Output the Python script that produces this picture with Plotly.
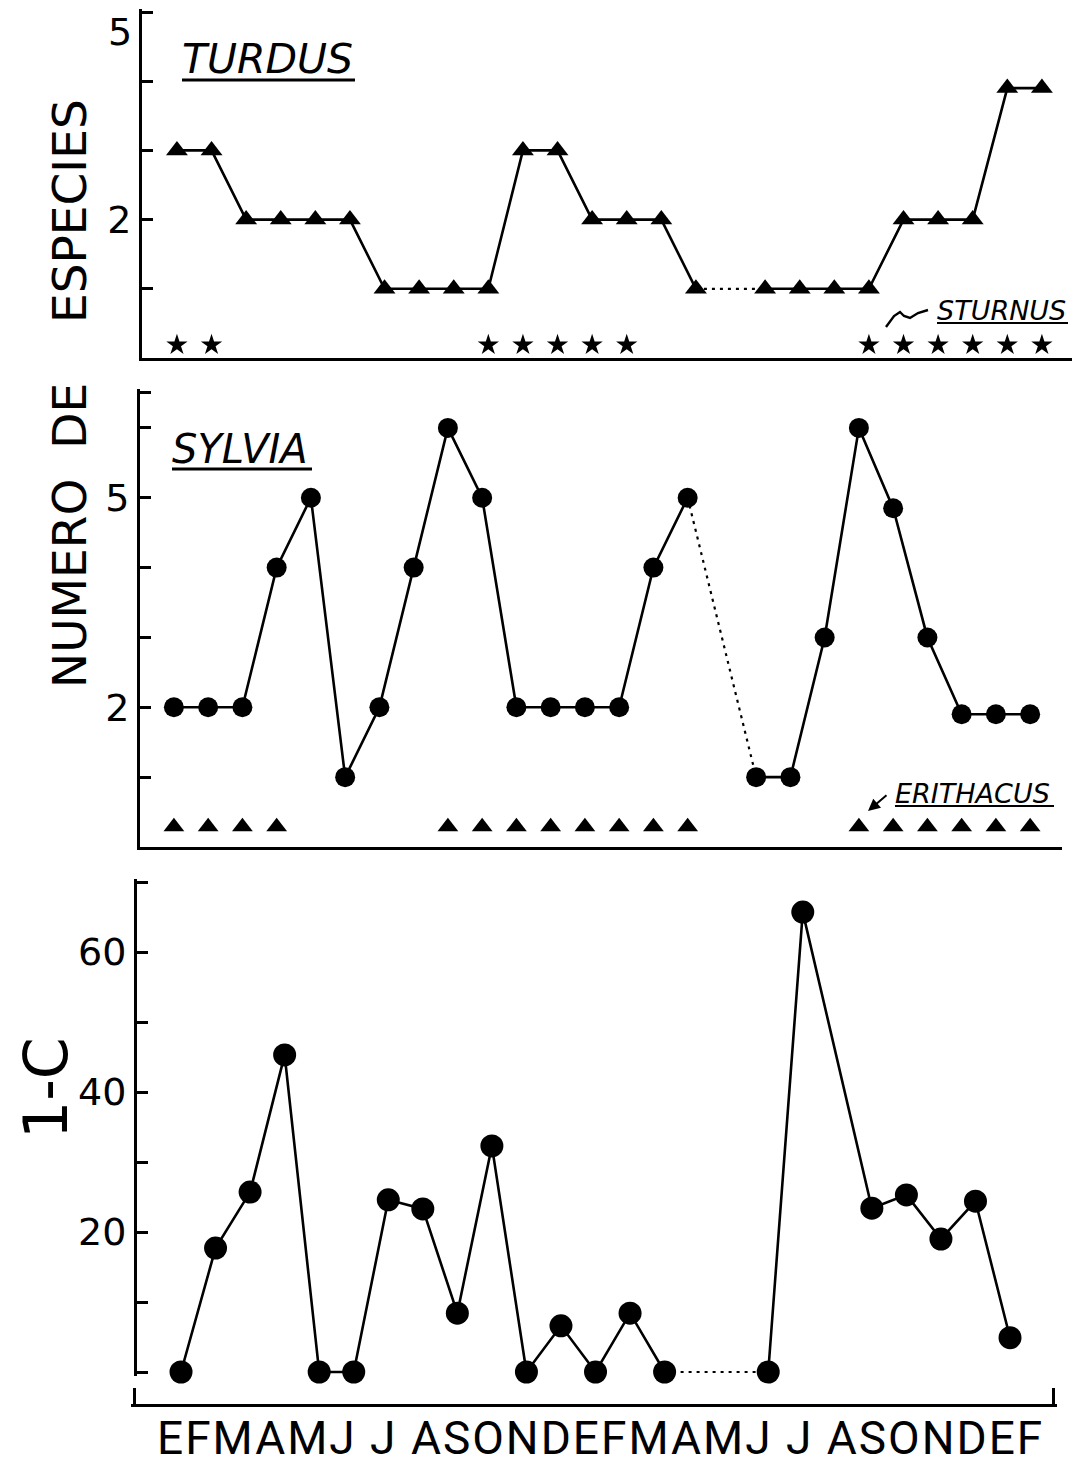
import plotly.graph_objects as go

W, H = 1073, 1467
FONT = "DejaVu Sans"

# ---------------- data ----------------
MONTHS = ["E", "F", "M", "A", "M", "J", "J", "A", "S", "O", "N", "D",
          "E", "F", "M", "A", "M", "J", "J", "A", "S", "O", "N", "D",
          "E", "F"]
MONTH_IDX = list(range(len(MONTHS)))

# Turdus: number of species per month (None = no sample)
TURDUS = [3, 3, 2, 2, 2, 2, 1, 1, 1, 1, 3, 3, 2, 2, 2, 1, None,
          1, 1, 1, 1, 2, 2, 2, 3.9, 3.9]
# Sturnus present (1) / absent (0)
STURNUS = [1, 1, 0, 0, 0, 0, 0, 0, 0, 1, 1, 1, 1, 1, 0, 0, 0,
           0, 0, 0, 1, 1, 1, 1, 1, 1]

# Sylvia: number of species per month
SYLVIA = [2, 2, 2, 4, 5, 1, 2, 4, 6, 5, 2, 2, 2, 2, 4, 5, None,
          1, 1, 3, 6, 4.85, 3, 1.9, 1.9, 1.9]
# Erithacus present (1) / absent (0)
ERITHACUS = [1, 1, 1, 1, 0, 0, 0, 0, 1, 1, 1, 1, 1, 1, 1, 1, 0,
             0, 0, 0, 1, 1, 1, 1, 1, 1]

# 1-C index
CI_MONTH = [0, 1, 2, 3, 4, 5, 6, 7, 8, 9, 10, 11, 12, 13, 14,
            17, 18, 20, 21, 22, 23, 24]
CI_VALUE = [0, 17.7, 25.7, 45.3, 0, 0, 24.6, 23.3, 8.4, 32.3, 0, 6.6, 0, 8.4, 0,
            0, 65.7, 23.4, 25.3, 19.0, 24.4, 4.9]
CI_SEGMENT = [1] * 15 + [2] * 7

# axis ticks
TOP_TICKS = [1, 2, 3, 4, 5]
TOP_TICKTEXT = ["", "2", "", "", ""]
MID_TICKS = [1, 2, 3, 4, 5, 6, 6.5]
MID_TICKTEXT = ["", "2", "", "", "5", "", ""]
BOT_TICKS = [0, 10, 20, 30, 40, 50, 60, 70]
BOT_TICKTEXT = ["", "", "20", "", "40", "", "60", ""]

# ---------------- helpers ----------------
def px(x):
    return x / W


def py(y):
    return 1 - y / H


def gap_bridges(xs, ys):
    """pairs of points around missing values (drawn dotted)"""
    out = []
    last = None
    pending = False
    for x, y in zip(xs, ys):
        if y is None:
            if last is not None:
                pending = True
            continue
        if pending:
            out.append(([last[0], x], [last[1], y]))
            pending = False
        last = (x, y)
    return out


def present(flags, level):
    xs = [m for m, f in zip(MONTH_IDX, flags) if f]
    return xs, [level] * len(xs)


LW = 2.6
DOT = dict(color="black", width=2.2, dash="3px,5px")
fig = go.Figure()

# ---------------- top panel: Turdus ----------------
for bx, by in gap_bridges(MONTH_IDX, TURDUS):
    fig.add_trace(go.Scatter(x=bx, y=by, mode="lines", xaxis="x", yaxis="y",
                             line=DOT, cliponaxis=False, showlegend=False))
fig.add_trace(go.Scatter(x=MONTH_IDX, y=TURDUS, mode="lines+markers", xaxis="x", yaxis="y",
                         line=dict(color="black", width=LW), connectgaps=False,
                         marker=dict(symbol="triangle-up", size=19, color="black"),
                         cliponaxis=False, showlegend=False))
sx, sy = present(STURNUS, 0.19)
fig.add_trace(go.Scatter(x=sx, y=sy, mode="markers", xaxis="x", yaxis="y",
                         marker=dict(symbol="star", size=16, color="black"),
                         cliponaxis=False, showlegend=False))

# ---------------- middle panel: Sylvia ----------------
for bx, by in gap_bridges(MONTH_IDX, SYLVIA):
    fig.add_trace(go.Scatter(x=bx, y=by, mode="lines", xaxis="x2", yaxis="y2",
                             line=DOT, cliponaxis=False, showlegend=False))
fig.add_trace(go.Scatter(x=MONTH_IDX, y=SYLVIA, mode="lines+markers", xaxis="x2", yaxis="y2",
                         line=dict(color="black", width=LW), connectgaps=False,
                         marker=dict(symbol="circle", size=20, color="black"),
                         cliponaxis=False, showlegend=False))
ex, ey = present(ERITHACUS, 0.29)
fig.add_trace(go.Scatter(x=ex, y=ey, mode="markers", xaxis="x2", yaxis="y2",
                         marker=dict(symbol="triangle-up", size=18, color="black"),
                         cliponaxis=False, showlegend=False))

# ---------------- bottom panel: 1-C ----------------
solid_x, solid_y = [], []
prev_seg = None
for m, v, s in zip(CI_MONTH, CI_VALUE, CI_SEGMENT):
    if prev_seg is not None and s != prev_seg:
        solid_x.append(None)
        solid_y.append(None)
    solid_x.append(m)
    solid_y.append(v)
    prev_seg = s
for bx, by in gap_bridges(solid_x, solid_y):
    fig.add_trace(go.Scatter(x=bx, y=by, mode="lines", xaxis="x3", yaxis="y3",
                             line=DOT, cliponaxis=False, showlegend=False))
fig.add_trace(go.Scatter(x=solid_x, y=solid_y, mode="lines+markers", xaxis="x3", yaxis="y3",
                         line=dict(color="black", width=LW), connectgaps=False,
                         marker=dict(symbol="circle", size=23, color="black"),
                         cliponaxis=False, showlegend=False))

# ---------------- axes ----------------
tickfont = dict(family=FONT, size=38, color="black")
yax_common = dict(showgrid=False, zeroline=False, showline=True, linecolor="black",
                  linewidth=3, ticks="inside", ticklen=11, tickwidth=3, tickcolor="black",
                  tickfont=tickfont, ticklabelstandoff=0, fixedrange=True)
xax_common = dict(showgrid=False, zeroline=False, showline=True, linecolor="black",
                  linewidth=3, showticklabels=False, fixedrange=True)

# top: 0 -> 358px, 1 unit = 69.2px ; middle: 0 -> 847px, 1 unit = 69.85px ; bottom: 0 -> 1372px, 1 unit = 7px
fig.update_layout(
    width=W, height=H,
    margin=dict(l=0, r=0, t=0, b=0),
    paper_bgcolor="white", plot_bgcolor="white",
    showlegend=False,
    xaxis=dict(domain=[px(142), px(1072)], range=[-1.01, 25.87], anchor="y",
               ticks="", **xax_common),
    yaxis=dict(domain=[py(358), py(358 - 5.05 * 69.2)], range=[0, 5.05], anchor="x",
               tickvals=TOP_TICKS, ticktext=TOP_TICKTEXT, **yax_common),
    xaxis2=dict(domain=[px(140), px(1062)], range=[-0.99, 25.93], anchor="y2",
                ticks="", **xax_common),
    yaxis2=dict(domain=[py(847), py(847 - 6.55 * 69.85)], range=[0, 6.55], anchor="x2",
                tickvals=MID_TICKS, ticktext=MID_TICKTEXT, **yax_common),
    xaxis3=dict(domain=[px(131), px(1057)], range=[-1.448, 25.36], anchor="free",
                position=py(1405), ticks="inside", ticklen=16, tickwidth=3,
                tickcolor="black", tickvals=[-1.36, 25.27], **xax_common),
    yaxis3=dict(domain=[py(1372 + 0.5 * 7), py(1372 - 70.5 * 7)], range=[-0.5, 70.5],
                anchor="free", position=px(135),
                tickvals=BOT_TICKS, ticktext=BOT_TICKTEXT, **yax_common),
)

# ---------------- text ----------------
month_str = "".join(m + (" " if m == "J" else "") for m in MONTHS)
ann = []
ann.append(dict(text='<span style="letter-spacing:2px">' + month_str + "</span>",
                x=px(600), y=py(1438), xref="paper", yref="paper",
                xanchor="center", yanchor="middle", showarrow=False,
                font=dict(family="Roboto", size=46, color="black")))
ann.append(dict(text="5", x=px(134), y=py(32), xref="paper", yref="paper",
                xanchor="right", yanchor="middle", showarrow=False, font=tickfont))
ann.append(dict(text="NUMERO\u00a0\u00a0DE\u00a0\u00a0\u00a0\u00a0ESPECIES", x=px(70), y=py(394),
                xref="paper", yref="paper", textangle=-90, xanchor="center", yanchor="middle",
                showarrow=False, font=dict(family=FONT, size=47, color="black")))
ann.append(dict(text="1-C", x=px(46), y=py(1088), xref="paper", yref="paper", textangle=-90,
                xanchor="center", yanchor="middle", showarrow=False,
                font=dict(family=FONT, size=60, color="black")))
ital = dict(family=FONT, color="black", style="italic")
ann.append(dict(text="TURDUS", x=px(180), y=py(59), xref="paper", yref="paper",
                xanchor="left", yanchor="middle", showarrow=False, font=dict(size=41, **ital)))
ann.append(dict(text="SYLVIA", x=px(170), y=py(449), xref="paper", yref="paper",
                xanchor="left", yanchor="middle", showarrow=False, font=dict(size=40, **ital)))
ann.append(dict(text="STURNUS", x=px(935), y=py(310), xref="paper", yref="paper",
                xanchor="left", yanchor="middle", showarrow=False, font=dict(size=27, **ital)))
ann.append(dict(text="ERITHACUS", x=px(893), y=py(793), xref="paper", yref="paper",
                xanchor="left", yanchor="middle", showarrow=False, font=dict(size=27, **ital)))
# Erithacus arrow
ann.append(dict(text="", x=px(868), y=py(811), xref="paper", yref="paper",
                ax=20, ay=-17, showarrow=True, arrowhead=2, arrowsize=1.2,
                arrowwidth=2, arrowcolor="black"))
fig.update_layout(annotations=ann)


# underlines and Sturnus squiggle
def hline(x0, x1, y, w):
    return dict(type="line", xref="paper", yref="paper", x0=px(x0), x1=px(x1),
                y0=py(y), y1=py(y), line=dict(color="black", width=w))


shapes = [hline(182, 355, 80, 3.2), hline(172, 312, 469, 3.2),
          hline(937, 1068, 323, 2.2), hline(895, 1054, 806, 2.2)]
pts = [(928, 310), (918, 313), (910, 318), (904, 316), (900, 312), (894, 316), (886, 327)]
path = "M " + " L ".join(f"{px(a):.5f},{py(b):.5f}" for a, b in pts)
shapes.append(dict(type="path", xref="paper", yref="paper", path=path,
                   line=dict(color="black", width=2.4)))
fig.update_layout(shapes=shapes)

fig.write_html("out.html", config={"displayModeBar": False},
               post_script="document.body.style.margin='0px';document.body.style.overflow='hidden';")
